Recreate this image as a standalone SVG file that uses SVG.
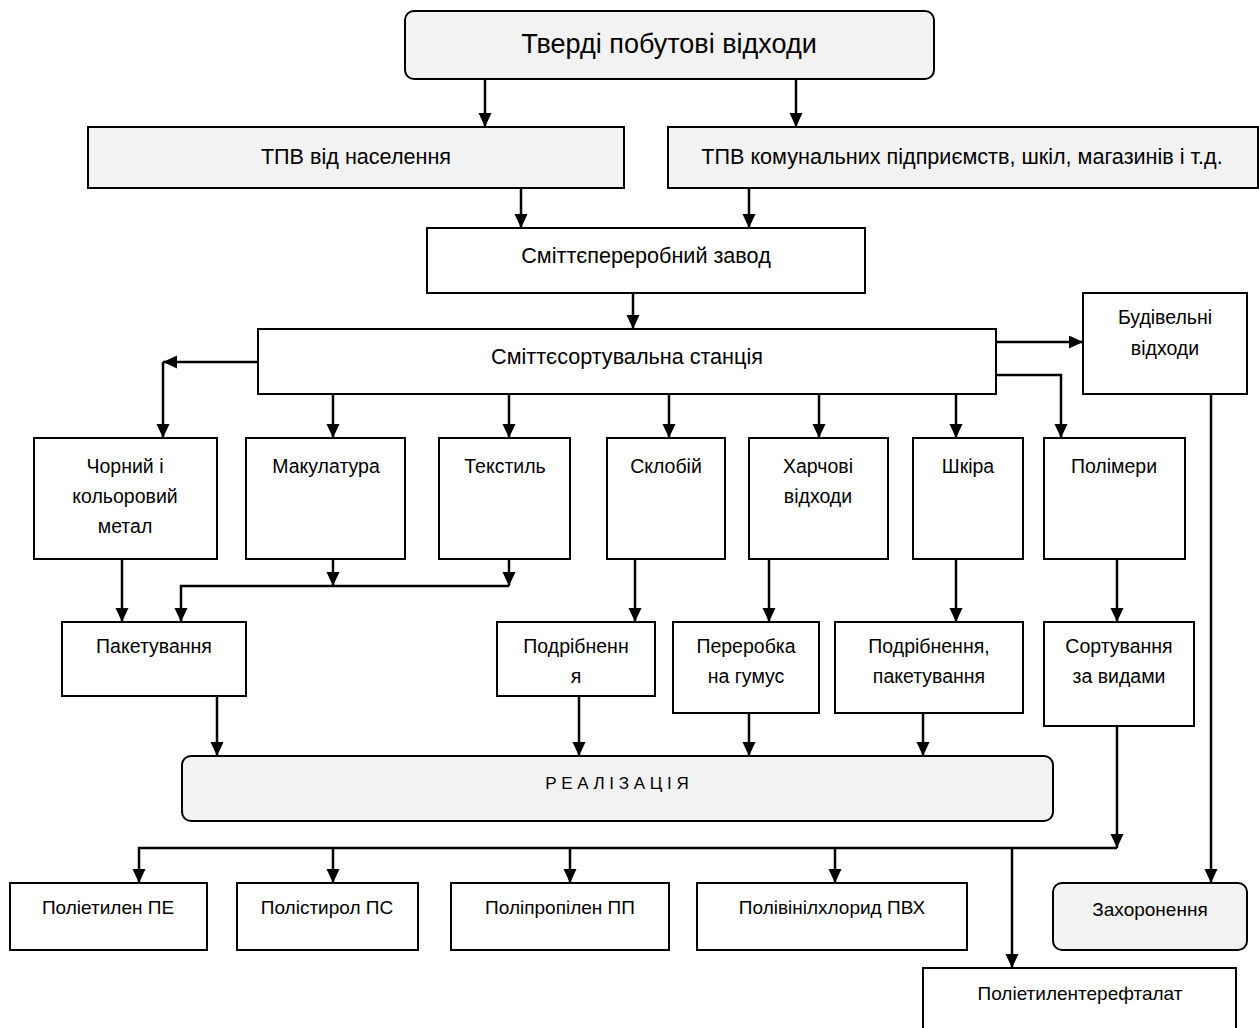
<svg xmlns="http://www.w3.org/2000/svg" width="1259" height="1028" viewBox="0 0 1259 1028">
<style>
.b{fill:#fff;stroke:#000;stroke-width:2}
.g{fill:#f2f2f2;stroke:#000;stroke-width:2}
text{font-family:"Liberation Sans",Arial,sans-serif;font-size:19.5px;fill:#000;text-anchor:middle}
.t{font-size:27px}
.u{font-size:21.6px}
.s{font-size:19px}
.r{font-size:17px}
.c{fill:none;stroke:#000;stroke-width:2.5}
</style>
<defs>
<marker id="ah" markerUnits="userSpaceOnUse" markerWidth="14" markerHeight="14" refX="14" refY="6.5" orient="auto">
<path d="M0,0 L14,6.5 L0,13 z" fill="#000"/>
</marker>
</defs>
<rect width="1259" height="1028" fill="#fff"/>
<g id="connectors">
<path class="c" marker-end="url(#ah)" d="M485,79 V127"/>
<path class="c" marker-end="url(#ah)" d="M796,79 V127"/>
<path class="c" marker-end="url(#ah)" d="M521,188 V228"/>
<path class="c" marker-end="url(#ah)" d="M749,188 V228"/>
<path class="c" marker-end="url(#ah)" d="M633,293 V329"/>
<path class="c" marker-end="url(#ah)" d="M258,362 H163"/>
<path class="c" marker-end="url(#ah)" d="M163,362 V438"/>
<path class="c" marker-end="url(#ah)" d="M333,394 V438"/>
<path class="c" marker-end="url(#ah)" d="M509,394 V438"/>
<path class="c" marker-end="url(#ah)" d="M669,394 V438"/>
<path class="c" marker-end="url(#ah)" d="M819,394 V438"/>
<path class="c" marker-end="url(#ah)" d="M956,394 V438"/>
<path class="c" marker-end="url(#ah)" d="M996,375 H1061 V438"/>
<path class="c" marker-end="url(#ah)" d="M996,342 H1083"/>
<path class="c" marker-end="url(#ah)" d="M1211,394 V883"/>
<path class="c" marker-end="url(#ah)" d="M122,559 V622"/>
<path class="c" marker-end="url(#ah)" d="M333,559 V586"/>
<path class="c" marker-end="url(#ah)" d="M509,559 V586"/>
<path class="c" marker-end="url(#ah)" d="M509,586 H181 V622"/>
<path class="c" marker-end="url(#ah)" d="M635,559 V622"/>
<path class="c" marker-end="url(#ah)" d="M769,559 V622"/>
<path class="c" marker-end="url(#ah)" d="M956,559 V622"/>
<path class="c" marker-end="url(#ah)" d="M1117,559 V622"/>
<path class="c" marker-end="url(#ah)" d="M217,696 V756"/>
<path class="c" marker-end="url(#ah)" d="M579,696 V756"/>
<path class="c" marker-end="url(#ah)" d="M749,713 V756"/>
<path class="c" marker-end="url(#ah)" d="M923,713 V756"/>
<path class="c" marker-end="url(#ah)" d="M1117,726 V848"/>
<path class="c" marker-end="url(#ah)" d="M1117,848 H139 V883"/>
<path class="c" marker-end="url(#ah)" d="M333,848 V883"/>
<path class="c" marker-end="url(#ah)" d="M570,848 V883"/>
<path class="c" marker-end="url(#ah)" d="M835,848 V883"/>
<path class="c" marker-end="url(#ah)" d="M1012,848 V968"/>
</g>
<g id="n-tpv"><rect class="g" x="405" y="11" width="529" height="68" rx="9"/><text class="t" x="669" y="53">Тверді побутові відходи</text></g>
<g id="n-pop"><rect class="g" x="88" y="127" width="536" height="61"/><text class="u" x="356" y="164">ТПВ від населення</text></g>
<g id="n-kom"><rect class="g" x="668" y="127" width="590" height="61"/><text class="u" x="962" y="164">ТПВ комунальних підприємств, шкіл, магазинів і т.д.</text></g>
<g id="n-zavod"><rect class="b" x="427" y="228" width="438" height="65"/><text class="u" x="646" y="263">Сміттєпереробний завод</text></g>
<g id="n-stan"><rect class="b" x="258" y="329" width="738" height="65"/><text class="u" x="627" y="364">Сміттєсортувальна станція</text></g>
<g id="n-bud"><rect class="b" x="1083" y="293" width="164" height="101"/><text x="1165" y="324">Будівельні</text><text x="1165" y="355">відходи</text></g>
<g id="n-met"><rect class="b" x="34" y="438" width="183" height="121"/><text x="125" y="473">Чорний і</text><text x="125" y="503">кольоровий</text><text x="125" y="533">метал</text></g>
<g id="n-mak"><rect class="b" x="246" y="438" width="159" height="121"/><text x="326" y="473">Макулатура</text></g>
<g id="n-tex"><rect class="b" x="439" y="438" width="131" height="121"/><text x="505" y="473">Текстиль</text></g>
<g id="n-sklo"><rect class="b" x="607" y="438" width="118" height="121"/><text x="666" y="473">Склобій</text></g>
<g id="n-harch"><rect class="b" x="749" y="438" width="139" height="121"/><text x="818" y="473">Харчові</text><text x="818" y="503">відходи</text></g>
<g id="n-shkira"><rect class="b" x="913" y="438" width="110" height="121"/><text x="968" y="473">Шкіра</text></g>
<g id="n-polim"><rect class="b" x="1044" y="438" width="141" height="121"/><text x="1114" y="473">Полімери</text></g>
<g id="n-paket"><rect class="b" x="62" y="622" width="184" height="74"/><text x="154" y="653">Пакетування</text></g>
<g id="n-podr"><rect class="b" x="497" y="622" width="158" height="74"/><text x="576" y="653">Подрібненн</text><text x="576" y="683">я</text></g>
<g id="n-humus"><rect class="b" x="673" y="622" width="146" height="91"/><text x="746" y="653">Переробка</text><text x="746" y="683">на гумус</text></g>
<g id="n-podrpak"><rect class="b" x="835" y="622" width="188" height="91"/><text x="929" y="653">Подрібнення,</text><text x="929" y="683">пакетування</text></g>
<g id="n-sort"><rect class="b" x="1044" y="622" width="150" height="104"/><text x="1119" y="653">Сортування</text><text x="1119" y="683">за видами</text></g>
<g id="n-real"><rect class="g" x="182" y="756" width="871" height="65" rx="9"/><text class="r" x="617" y="789">Р Е А Л І З А Ц І Я</text></g>
<g id="n-pe"><rect class="b" x="10" y="883" width="197" height="67"/><text class="s" x="108" y="914">Поліетилен ПЕ</text></g>
<g id="n-ps"><rect class="b" x="237" y="883" width="181" height="67"/><text class="s" x="327" y="914">Полістирол ПС</text></g>
<g id="n-pp"><rect class="b" x="451" y="883" width="218" height="67"/><text class="s" x="560" y="914">Поліпропілен ПП</text></g>
<g id="n-pvh"><rect class="b" x="697" y="883" width="270" height="67"/><text class="s" x="832" y="914">Полівінілхлорид ПВХ</text></g>
<g id="n-zah"><rect class="g" x="1053" y="883" width="194" height="67" rx="9"/><text class="s" x="1150" y="916">Захоронення</text></g>
<g id="n-pet"><rect class="b" x="923" y="968" width="313" height="80"/><text class="s" x="1080" y="1000">Поліетилентерефталат</text></g>
</svg>
